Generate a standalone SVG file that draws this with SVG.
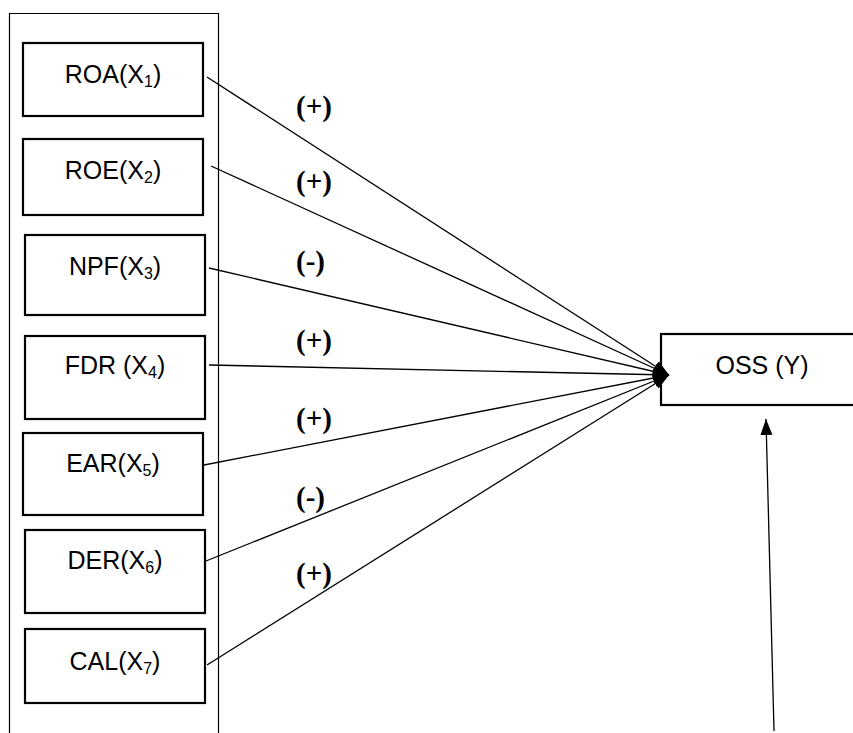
<svg xmlns="http://www.w3.org/2000/svg" width="853" height="733" viewBox="0 0 853 733">
<style>
.box{fill:#fff;stroke:#000;stroke-width:2.2}
.lbl{font-family:"Liberation Sans",Arial,sans-serif;font-size:25px;fill:#000}
.sub{font-size:16px}
.sign{font-family:"Liberation Serif","Times New Roman",serif;font-size:29px;font-weight:bold;fill:#000}
.con{stroke:#000;stroke-width:1.3;fill:none}
</style>
<defs>
<marker id="ah" markerUnits="userSpaceOnUse" markerWidth="18" markerHeight="14" refX="16" refY="7" orient="auto">
<path d="M0,1 L16,7 L0,13 Z" fill="#000"/>
</marker>
</defs>
<rect width="853" height="733" fill="#fff"/>
<g id="container">
<path d="M9.5,733 V13.5 H218.5 V733" fill="none" stroke="#000" stroke-width="1.2"/>
</g>
<g id="roa"><rect class="box" x="23" y="43" width="180" height="73"/><text class="lbl" x="113" y="83" text-anchor="middle">ROA(X<tspan class="sub" dy="4">1</tspan><tspan dy="-4">)</tspan></text></g>
<g id="roe"><rect class="box" x="23" y="139" width="180" height="76"/><text class="lbl" x="113" y="179" text-anchor="middle">ROE(X<tspan class="sub" dy="4">2</tspan><tspan dy="-4">)</tspan></text></g>
<g id="npf"><rect class="box" x="25" y="235" width="180" height="80"/><text class="lbl" x="115" y="275" text-anchor="middle">NPF(X<tspan class="sub" dy="4">3</tspan><tspan dy="-4">)</tspan></text></g>
<g id="fdr"><rect class="box" x="25" y="336" width="180" height="83"/><text class="lbl" x="115" y="374" text-anchor="middle">FDR (X<tspan class="sub" dy="4">4</tspan><tspan dy="-4">)</tspan></text></g>
<g id="ear"><rect class="box" x="23" y="433" width="180" height="82"/><text class="lbl" x="113" y="472" text-anchor="middle">EAR(X<tspan class="sub" dy="4">5</tspan><tspan dy="-4">)</tspan></text></g>
<g id="der"><rect class="box" x="25" y="530" width="180" height="83"/><text class="lbl" x="115" y="569" text-anchor="middle">DER(X<tspan class="sub" dy="4">6</tspan><tspan dy="-4">)</tspan></text></g>
<g id="cal"><rect class="box" x="25" y="629" width="180" height="74"/><text class="lbl" x="115" y="670" text-anchor="middle">CAL(X<tspan class="sub" dy="4">7</tspan><tspan dy="-4">)</tspan></text></g>
<g id="oss"><rect class="box" x="661" y="334" width="210" height="71"/><text class="lbl" x="762" y="374" text-anchor="middle">OSS (Y)</text></g>
<g id="connectors">
<line class="con" x1="207" y1="77" x2="669" y2="375" marker-end="url(#ah)"/>
<line class="con" x1="211" y1="166" x2="669" y2="375" marker-end="url(#ah)"/>
<line class="con" x1="209" y1="268" x2="669" y2="375" marker-end="url(#ah)"/>
<line class="con" x1="209" y1="365" x2="669" y2="375" marker-end="url(#ah)"/>
<line class="con" x1="204" y1="465" x2="669" y2="375" marker-end="url(#ah)"/>
<line class="con" x1="206" y1="561" x2="669" y2="375" marker-end="url(#ah)"/>
<line class="con" x1="207" y1="665" x2="669" y2="375" marker-end="url(#ah)"/>
<line class="con" x1="774" y1="731" x2="766" y2="419" stroke-width="1.5" marker-end="url(#ah)"/>
</g>
<g id="signs">
<text class="sign" x="296" y="116">(+)</text>
<text class="sign" x="296" y="191">(+)</text>
<text class="sign" x="296" y="271">(-)</text>
<text class="sign" x="296" y="350">(+)</text>
<text class="sign" x="296" y="428">(+)</text>
<text class="sign" x="296" y="507">(-)</text>
<text class="sign" x="296" y="583">(+)</text>
</g>
</svg>
